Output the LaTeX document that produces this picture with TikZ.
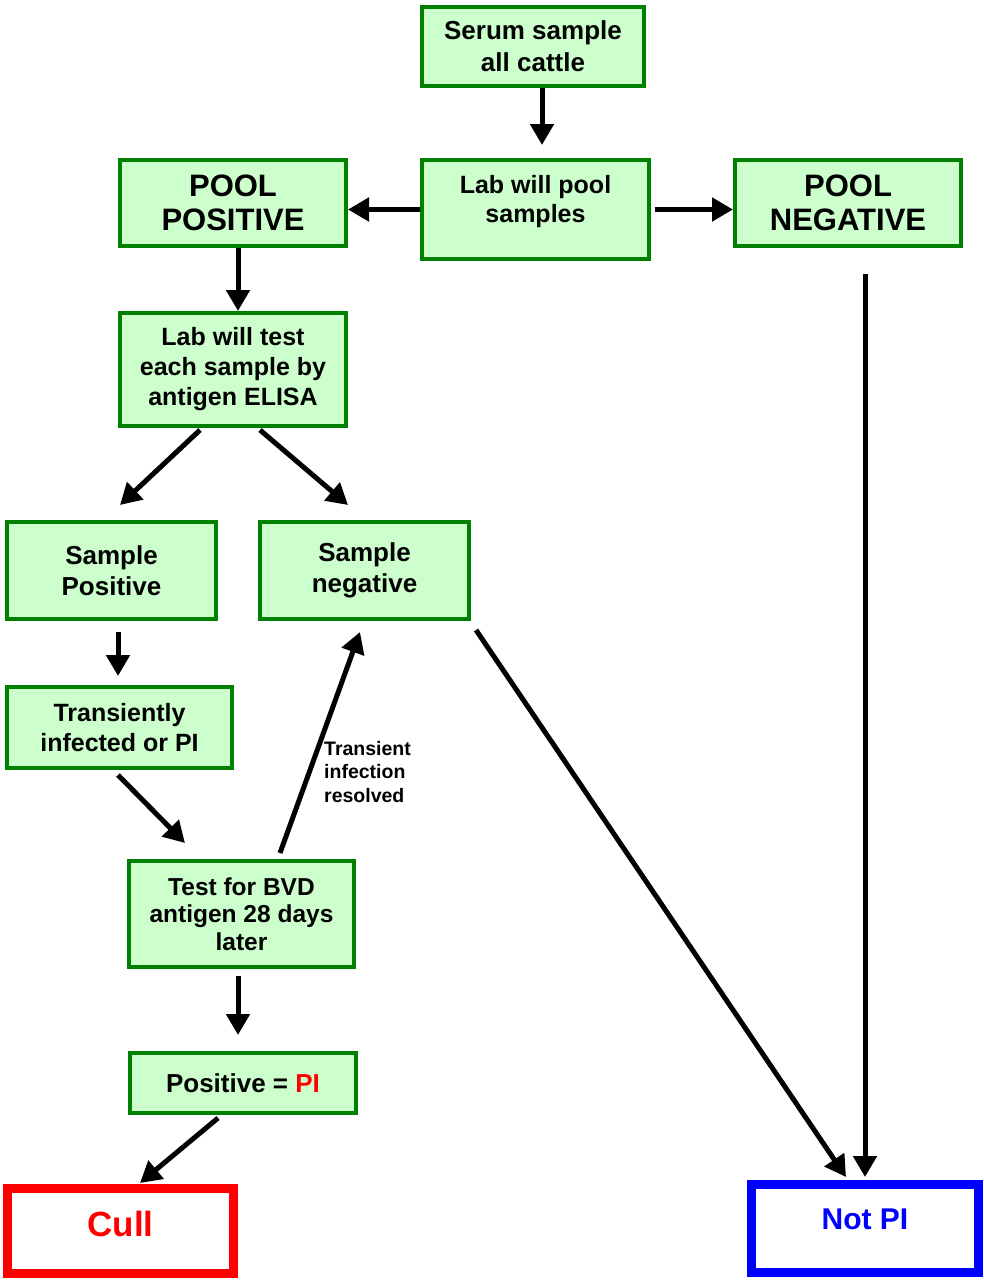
\documentclass[tikz,border=0pt]{standalone}
\usepackage{fontspec}
\setmainfont{Liberation Sans}
\usetikzlibrary{arrows.meta}

\definecolor{boxgreen}{RGB}{0,128,0}
\definecolor{boxfill}{RGB}{204,255,204}

\tikzset{
  stepbox/.style={draw=boxgreen, fill=boxfill, line width=4pt, align=center,
    font=\bfseries\fontsize{25}{30}\selectfont, inner sep=0pt},
  bigbox/.style={stepbox, font=\bfseries\fontsize{31}{34}\selectfont},
  endbox/.style={draw, fill=white, line width=9pt, inner sep=0pt,
    font=\bfseries\fontsize{32}{36}\selectfont},
  arr/.style={line width=5pt, -{Triangle[length=21pt, width=23pt]}}
}

\begin{document}
\begin{tikzpicture}[x=1pt, y=-1pt]
    \useasboundingbox (0,0) rectangle (984,1280);

    \node[stepbox, minimum width=222pt, minimum height=79pt, font=\bfseries\fontsize{26}{32}\selectfont] (serum) at (533,46.5) {Serum sample\\all cattle};
    \node[stepbox, minimum width=227pt, minimum height=99pt] (pool) at (535.5,209.5) {\raisebox{21pt}{\shortstack{Lab will pool\\[3pt]samples}}};
    \node[bigbox, minimum width=226pt, minimum height=86pt] (ppos) at (233,203) {\raisebox{-17pt}{\shortstack{POOL\\[9pt]POSITIVE}}};
    \node[bigbox, minimum width=226pt, minimum height=86pt] (pneg) at (848,203) {\raisebox{-17pt}{\shortstack{POOL\\[9pt]NEGATIVE}}};
    \node[stepbox, minimum width=226pt, minimum height=113pt] (lab) at (233,369.5) {Lab will test\\each sample by\\antigen ELISA};
    \node[stepbox, minimum width=209pt, minimum height=97pt, font=\bfseries\fontsize{26}{31}\selectfont] (spos) at (111.5,570.5) {Sample\\Positive};
    \node[stepbox, minimum width=209pt, minimum height=97pt, font=\bfseries\fontsize{26}{31}\selectfont] (sneg) at (364.5,570.5) {Sample\\negative};
    \node[stepbox, minimum width=225pt, minimum height=81pt] (trans) at (119.5,727.5) {Transiently\\infected or PI};
    \node[stepbox, minimum width=225pt, minimum height=106pt, font=\bfseries\fontsize{24.5}{27.5}\selectfont] (bvd) at (241.5,914) {Test for BVD\\antigen 28 days\\later};
    \node[stepbox, minimum width=226pt, minimum height=60pt, font=\bfseries\fontsize{26}{30}\selectfont] (pospi) at (243,1083) {Positive = \textcolor{red}{PI}};
    \node[endbox, draw=red, text=red, minimum width=226pt, minimum height=85pt, font=\bfseries\fontsize{35}{40}\selectfont] (cull) at (120.5,1231) {\raisebox{15pt}{Cull}};
    \node[endbox, draw=blue, text=blue, minimum width=227pt, minimum height=88pt, font=\bfseries\fontsize{30}{36}\selectfont] (notpi) at (865,1228.5) {\raisebox{19pt}{Not PI}};

    \node[anchor=west, align=left, inner sep=0pt, font=\bfseries\fontsize{19.5}{23.5}\selectfont] (resolved) at (324,772) {Transient\\infection\\resolved};

    \draw[arr] ([xshift=9pt]serum.south) -- ([xshift=6.5pt,yshift=13pt]pool.north);
    \draw[arr] (pool.west) -- (pool.west -| ppos.east);
    \draw[arr, shorten <=4pt] (pool.east) -- (pool.east -| pneg.west);
    \draw[arr] ([xshift=5pt]ppos.south) -- ([xshift=5pt]lab.north);
    \draw[arr] ([xshift=-33pt,yshift=-2pt]lab.south) -- ([xshift=8.5pt,yshift=15pt]spos.north);
    \draw[arr] ([xshift=27pt,yshift=-2pt]lab.south) -- ([xshift=-16.5pt,yshift=15pt]sneg.north);
    \draw[arr] ([xshift=6.5pt,yshift=-11pt]spos.south) -- ([xshift=-1.5pt,yshift=9pt]trans.north);
    \draw[arr] ([xshift=-1.5pt,yshift=-5pt]trans.south) -- ([xshift=-56.5pt,yshift=16pt]bvd.north);
    \draw[arr] ([xshift=38.5pt,yshift=6pt]bvd.north) -- ([xshift=-4.5pt,yshift=-11pt]sneg.south);
    \draw[arr] ([xshift=5pt,yshift=-9pt]sneg.south east) -- ([xshift=-19pt,yshift=3pt]notpi.north);
    \draw[arr] ([xshift=17pt,yshift=-26pt]pneg.south) -- ([yshift=3pt]notpi.north);
    \draw[arr] ([xshift=-3.5pt,yshift=-7pt]bvd.south) -- ([xshift=-5pt,yshift=16pt]pospi.north);
    \draw[arr] ([xshift=-25pt,yshift=-3pt]pospi.south) -- ([xshift=19.5pt,yshift=1pt]cull.north);
\end{tikzpicture}
\end{document}
